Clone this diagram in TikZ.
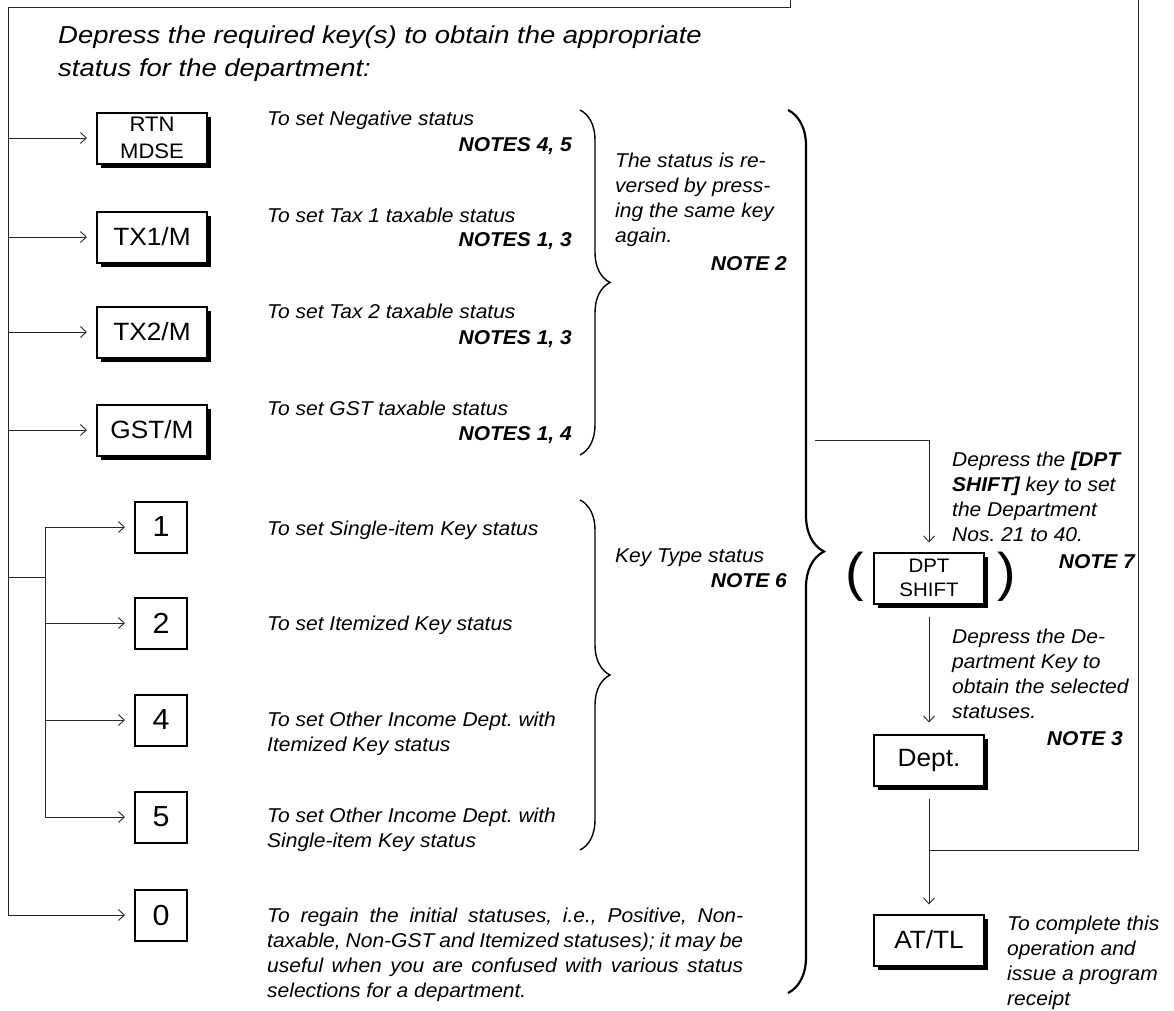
\documentclass[tikz,border=0pt]{standalone}
\usepackage{fontspec}
\setmainfont{Liberation Sans}[FakeStretch=1.05]
\newfontfamily\titlefont{Liberation Sans}[FakeStretch=1.12]
\usetikzlibrary{arrows.meta,shadows,decorations.pathreplacing}
\frenchspacing
\newcommand{\lns}[1]{\begin{tabular}[t]{@{}l@{}}#1\end{tabular}}
\begin{document}
\begin{tikzpicture}[x=1pt,y=-1pt,
  conn/.style={line width=0.9pt,draw=black!85},
  arr/.style={conn,-{Straight Barb[length=6pt,width=11pt,line width=0.9pt]},shorten >=9pt},
  keybox/.style={draw,line width=2pt,fill=white,minimum width=110pt,minimum height=51pt,inner sep=0pt,align=center,
    drop shadow={shadow xshift=4pt,shadow yshift=-4pt,opacity=1,fill=black},font=\fontsize{25}{26}\selectfont},
  numbox/.style={draw,line width=2pt,minimum width=52pt,minimum height=51pt,inner sep=0pt,font=\fontsize{29}{30}\selectfont},
  txt/.style={anchor=base west,inner sep=0pt,font=\itshape\fontsize{20}{25.3}\selectfont},
  note/.style={anchor=base east,inner sep=0pt,font=\bfseries\itshape\fontsize{20}{25.3}\selectfont},
  sbrace/.style={decorate,decoration={brace,amplitude=30pt},line width=1.4pt},
  bbrace/.style={decorate,decoration={brace,amplitude=36pt},line width=2.2pt},
  paren/.style={inner sep=0pt,font=\fontsize{53}{53}\selectfont}]
\useasboundingbox (0,0) rectangle (1174,1010);

% title
\node[txt,font=\titlefont\itshape\fontsize{24.5}{33}\selectfont] (title) at (58,43)
  {\lns{Depress the required key(s) to obtain the appropriate\\status for the department:}};

% keys
\node[keybox,font=\fontsize{21}{26.7}\selectfont] (rtn) at (152,138) {RTN\\MDSE};
\node[keybox] (tx1) at (152,237) {TX1/M};
\node[keybox] (tx2) at (152,332) {TX2/M};
\node[keybox] (gst) at (152,430) {GST/M};
\node[numbox] (k1) at (161,527) {1};
\node[numbox] (k2) at (161,623) {2};
\node[numbox] (k4) at (161,720) {4};
\node[numbox] (k5) at (161,817) {5};
\node[numbox] (k0) at (161,915) {0};
\node[keybox,font=\fontsize{19.5}{24.5}\selectfont] (dpt) at (929,578) {DPT\\SHIFT};
\node[keybox] (dept) at (929,760) {Dept.};
\node[keybox] (attl) at (929,940) {AT/TL};
\node[paren] (lp) at (855,577) {(};
\node[paren] (rp) at (1007,577) {)};

% descriptions
\node[txt] (d1) at (267,125) {To set Negative status};
\node[note] (n1) at (572,151) {NOTES 4, 5};
\node[txt] (d2) at (267,222) {To set Tax 1 taxable status};
\node[note] (n2) at (572,246) {NOTES 1, 3};
\node[txt] (d3) at (267,318) {To set Tax 2 taxable status};
\node[note] (n3) at (572,344) {NOTES 1, 3};
\node[txt] (d4) at (267,415) {To set GST taxable status};
\node[note] (n4) at (572,440) {NOTES 1, 4};
\node[txt] (d5) at (267,535) {To set Single-item Key status};
\node[txt] (d6) at (267,630) {To set Itemized Key status};
\node[txt] (d7) at (267,726) {\lns{To set Other Income Dept. with\\Itemized Key status}};
\node[txt] (d8) at (267,822) {\lns{To set Other Income Dept. with\\Single-item Key status}};
\node[txt] (d9) at (267,922) {\lns{\makebox[476pt][s]{To regain the initial statuses, i.e., Positive, Non-}\\
  \makebox[476pt][s]{taxable, Non-GST and Itemized statuses); it may be}\\
  \makebox[476pt][s]{useful when you are confused with various status}\\
  selections for a department.}};

% brace texts
\node[txt] (b1t) at (615,167) {\lns{The status is re-\\versed by press-\\ing the same key\\again.}};
\node[note] (n5) at (787,270) {NOTE 2};
\node[txt] (b2t) at (615,562) {Key Type status};
\node[note] (n6) at (787,587) {NOTE 6};

% right texts
\node[txt] (r1) at (952,466) {\lns{Depress the \textbf{[DPT}\\\textbf{SHIFT]} key to set\\the Department\\Nos. 21 to 40.}};
\node[note] (n7) at (1135,568) {NOTE 7};
\node[txt] (r2) at (952,643) {\lns{Depress the De-\\partment Key to\\obtain the selected\\statuses.}};
\node[note] (n8) at (1123,745) {NOTE 3};
\node[txt] (r3) at (1007,930) {\lns{To complete this\\operation and\\issue a program\\receipt}};

% left trunk
\coordinate (topin) at (790,0);
\coordinate (tl) at (8,7);
\draw[arr] (topin) |- (tl) |- (k0);
\foreach \k in {rtn,tx1,tx2,gst} \draw[arr] (tl |- \k) -- (\k);
\coordinate (sb) at (45,577);
\draw[conn] (tl |- sb) -- (sb);
\draw[arr] (sb) |- (k1);
\draw[arr] (sb) |- (k5);
\draw[arr] (sb |- k2) -- (k2);
\draw[arr] (sb |- k4) -- (k4);

% braces
\coordinate (b1s) at (580,110); \coordinate (b1e) at (580,455);
\coordinate (b2s) at (580,500); \coordinate (b2e) at (580,850);
\coordinate (b3s) at (788,110); \coordinate (b3e) at (788,993);
\draw[sbrace] (b1s) -- (b1e);
\draw[sbrace] (b2s) -- (b2e);
\draw[bbrace] (b3s) -- (b3e);

% right flow
\coordinate (bs) at (815,440);
\draw[arr] (bs) -| (dpt);
\draw[arr,shorten <=12pt,shorten >=11pt] (dpt) -- (dept);
\draw[arr,shorten <=12pt] (dept) -- (attl);
\coordinate (jn) at (929,850);
\coordinate (rtop) at (1138,0);
\draw[conn] (jn) -| (rtop);
\end{tikzpicture}
\end{document}
